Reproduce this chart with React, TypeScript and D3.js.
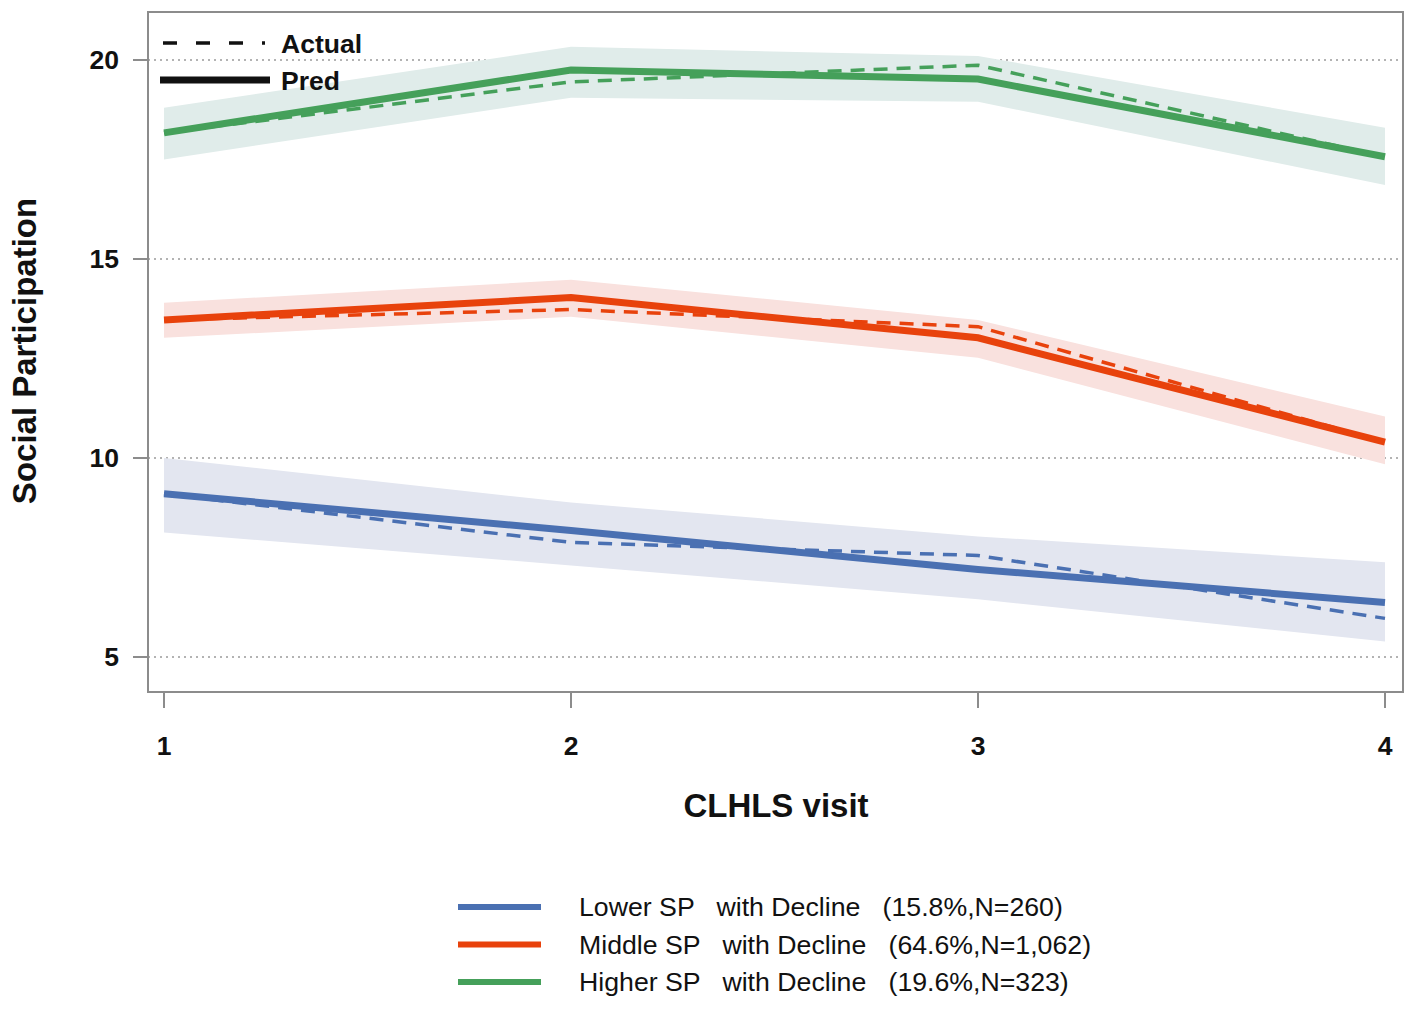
import React from "react";
import * as d3 from "d3";

const VISITS = [1, 2, 3, 4];
const Y_TICKS = [5, 10, 15, 20];

const GROUPS = ["Lower", "Middle", "Higher"];
const COLORS = ["#4a70b2", "#e8420c", "#45a05a"];
const BAND_COLORS = ["#e3e6f0", "#f9e1de", "#e0ecea"];
const LEGEND_LABELS = [
  "Lower SP   with Decline   (15.8%,N=260)",
  "Middle SP   with Decline   (64.6%,N=1,062)",
  "Higher SP   with Decline   (19.6%,N=323)",
];

// predicted trajectories
const PRED_LOWER = [9.1, 8.18, 7.2, 6.37];
const PRED_MIDDLE = [13.47, 14.03, 13.02, 10.4];
const PRED_HIGHER = [18.17, 19.75, 19.52, 17.57];

// observed means
const ACTUAL_LOWER = [9.1, 7.88, 7.55, 5.97];
const ACTUAL_MIDDLE = [13.47, 13.73, 13.3, 10.4];
const ACTUAL_HIGHER = [18.17, 19.45, 19.87, 17.57];

// confidence bands
const LOW_LOWER = [8.13, 7.3, 6.45, 5.39];
const HIGH_LOWER = [10.0, 8.88, 8.03, 7.38];
const LOW_MIDDLE = [13.02, 13.55, 12.52, 9.84];
const HIGH_MIDDLE = [13.9, 14.48, 13.47, 11.04];
const LOW_HIGHER = [17.5, 19.05, 18.95, 16.86];
const HIGH_HIGHER = [18.8, 20.33, 20.1, 18.3];

const PRED = [PRED_LOWER, PRED_MIDDLE, PRED_HIGHER];
const ACTUAL = [ACTUAL_LOWER, ACTUAL_MIDDLE, ACTUAL_HIGHER];
const LOW = [LOW_LOWER, LOW_MIDDLE, LOW_HIGHER];
const HIGH = [HIGH_LOWER, HIGH_MIDDLE, HIGH_HIGHER];

const W = 1418;
const H = 1012;
const frame = { left: 148, top: 12, right: 1403, bottom: 692 };
const FONT = "Liberation Sans, Arial, sans-serif";

export default function App() {
  const x = d3.scaleLinear().domain([1, 4]).range([164, 1385]);
  const y = d3.scaleLinear().domain([5, 20]).range([657, 60]);

  const line = d3
    .line<number>()
    .x((_, i) => x(VISITS[i]))
    .y((d) => y(d));

  return (
    <svg
      width={W}
      height={H}
      style={{ position: "absolute", left: 0, top: 0, background: "#fff" }}
      fontFamily={FONT}
    >
      {/* grid */}
      {Y_TICKS.map((t) => (
        <line
          key={"g" + t}
          x1={frame.left}
          x2={frame.right}
          y1={y(t)}
          y2={y(t)}
          stroke="#9a9a9a"
          strokeWidth={1.6}
          strokeDasharray="2,4"
        />
      ))}

      {/* bands */}
      {GROUPS.map((g, gi) => {
        const area = d3
          .area<number>()
          .x((_, i) => x(VISITS[i]))
          .y0((_, i) => y(LOW[gi][i]))
          .y1((d) => y(d));
        return (
          <path key={"b" + g} d={area(HIGH[gi]) || ""} fill={BAND_COLORS[gi]} />
        );
      })}

      {/* lines */}
      {GROUPS.map((g, gi) => (
        <g key={"l" + g}>
          <path
            d={line(ACTUAL[gi]) || ""}
            fill="none"
            stroke={COLORS[gi]}
            strokeWidth={3.5}
            strokeDasharray="14,9"
          />
          <path
            d={line(PRED[gi]) || ""}
            fill="none"
            stroke={COLORS[gi]}
            strokeWidth={7}
          />
        </g>
      ))}

      {/* frame */}
      <rect
        x={frame.left}
        y={frame.top}
        width={frame.right - frame.left}
        height={frame.bottom - frame.top}
        fill="none"
        stroke="#8c8c8c"
        strokeWidth={2}
      />

      {/* y axis */}
      {Y_TICKS.map((t) => (
        <g key={"y" + t}>
          <line x1={133} x2={frame.left} y1={y(t)} y2={y(t)} stroke="#8c8c8c" strokeWidth={2} />
          <text
            x={119}
            y={y(t)}
            textAnchor="end"
            dominantBaseline="central"
            fontSize={26.5}
            fontWeight="bold"
            fill="#111"
          >
            {t}
          </text>
        </g>
      ))}
      <text
        transform={`translate(${24},${351}) rotate(-90)`}
        textAnchor="middle"
        dominantBaseline="central"
        fontSize={33}
        fontWeight="bold"
        fill="#111"
      >
        Social Participation
      </text>

      {/* x axis */}
      {VISITS.map((v) => (
        <g key={"x" + v}>
          <line x1={x(v)} x2={x(v)} y1={frame.bottom} y2={708} stroke="#8c8c8c" strokeWidth={2} />
          <text
            x={x(v)}
            y={746}
            textAnchor="middle"
            dominantBaseline="central"
            fontSize={26.5}
            fontWeight="bold"
            fill="#111"
          >
            {v}
          </text>
        </g>
      ))}
      <text
        x={776}
        y={805}
        textAnchor="middle"
        dominantBaseline="central"
        fontSize={33}
        fontWeight="bold"
        fill="#111"
      >
        CLHLS visit
      </text>

      {/* line-type legend */}
      <line x1={163} x2={268} y1={43} y2={43} stroke="#111" strokeWidth={3.5} strokeDasharray="14,19,14,19,14,19,3" />
      <text x={281} y={44} dominantBaseline="central" fontSize={26.5} fontWeight="bold" fill="#111">
        Actual
      </text>
      <line x1={160} x2={270} y1={80} y2={80} stroke="#111" strokeWidth={7} />
      <text x={281} y={81} dominantBaseline="central" fontSize={26.5} fontWeight="bold" fill="#111">
        Pred
      </text>

      {/* group legend */}
      {GROUPS.map((g, gi) => {
        const ly = 907 + gi * 37.5;
        return (
          <g key={"lg" + g}>
            <line x1={458} x2={541} y1={ly} y2={ly} stroke={COLORS[gi]} strokeWidth={6} />
            <text
              x={579}
              y={ly}
              dominantBaseline="central"
              fontSize={26.7}
              fill="#111"
              style={{ whiteSpace: "pre" }}
            >
              {LEGEND_LABELS[gi]}
            </text>
          </g>
        );
      })}
    </svg>
  );
}
